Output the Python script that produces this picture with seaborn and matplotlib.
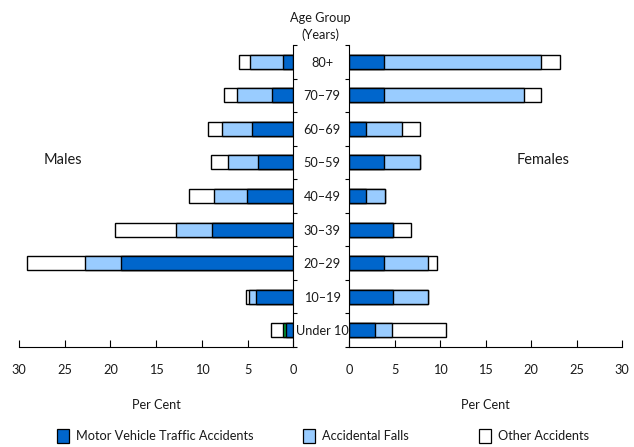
import matplotlib
matplotlib.use("Agg")
import matplotlib.pyplot as plt
import seaborn as sns
import pandas as pd
import numpy as np
from matplotlib.patches import Patch

sns.set_theme(style="white")
plt.rcParams['font.family'] = ['Lato', 'DejaVu Sans']

# ---------------- data ----------------
age_groups = ["80+", "70–79", "60–69", "50–59", "40–49", "30–39", "20–29", "10–19", "Under 10"]

male_motor = [1.1, 2.4, 4.55, 3.85, 5.1, 8.95, 18.85, 4.1, 0.8]
male_falls = [3.7, 3.8, 3.3, 3.3, 3.55, 3.85, 3.9, 0.8, 0.35]
male_other = [1.2, 1.4, 1.45, 1.9, 2.75, 6.7, 6.35, 0.3, 1.3]

female_motor = [3.85, 3.85, 1.85, 3.85, 1.85, 4.75, 3.85, 4.75, 2.85]
female_falls = [17.2, 15.35, 3.9, 3.9, 2.1, 0.0, 4.75, 3.9, 1.85]
female_other = [2.1, 1.85, 2.0, 0.0, 0.0, 2.05, 1.05, 0.0, 5.95]

series_names = ["Motor Vehicle Traffic Accidents", "Accidental Falls", "Other Accidents"]
x_ticks = [0, 5, 10, 15, 20, 25, 30]

MOTOR = "#0066CC"
FALLS = "#99CCFF"
OTHER = "#FFFFFF"
GREEN = "#009933"
# colour of the falls segment per age group (one odd green segment in the source)
male_falls_colors = [FALLS] * 8 + [GREEN]
female_falls_colors = [FALLS] * 9


def frame(motor, falls, other):
    df = pd.DataFrame({"age": age_groups,
                       "motor": motor, "falls": falls, "other": other})
    df["c1"] = df["motor"]
    df["c2"] = df["motor"] + df["falls"]
    df["c3"] = df["c2"] + df["other"]
    return df


males = frame(male_motor, male_falls, male_other)
females = frame(female_motor, female_falls, female_other)

W, H = 634, 447
fig = plt.figure(figsize=(W / 100, H / 100), dpi=100)
axL = fig.add_axes([19 / W, 1 - 347 / H, 274.5 / W, 302 / H])
axR = fig.add_axes([349.3 / W, 1 - 347 / H, 273 / W, 302 / H])

bar_kw = dict(orient="h", edgecolor="black", linewidth=1.0, width=0.42,
              errorbar=None, order=age_groups, saturation=1)


def draw(ax, df, falls_colors):
    # overdraw cumulative totals: total (other), motor+falls, motor
    sns.barplot(data=df, x="c3", y="age", color=OTHER, ax=ax, **bar_kw)
    sns.barplot(data=df, x="c2", y="age", hue="age", palette=dict(zip(age_groups, falls_colors)),
                legend=False, ax=ax, **bar_kw)
    sns.barplot(data=df, x="c1", y="age", color=MOTOR, ax=ax, **bar_kw)
    for p in ax.patches:
        if p.get_width() == 0:
            p.set_visible(False)


draw(axL, males, male_falls_colors)
draw(axR, females, female_falls_colors)

fs = 9.2
TXT = "#1a1a1a"
for ax in (axL, axR):
    ax.set_ylim(len(age_groups) - 0.5, -0.5)
    ax.set_xticks(x_ticks)
    ax.set_xticklabels([str(t) for t in x_ticks], fontsize=fs, color=TXT)
    ax.tick_params(axis="x", direction="in", length=5, width=0.8, color="black", pad=12, bottom=True)
    ax.set_xlabel("Per Cent", fontsize=fs, color=TXT, labelpad=17)
    ax.set_ylabel("")
    for s in ax.spines.values():
        s.set_color("black")
        s.set_linewidth(0.8)
    ax.spines["top"].set_visible(False)

axL.set_xlim(30, 0)
axR.set_xlim(0, 30)

axL.spines["left"].set_visible(False)
axL.yaxis.tick_right()
axL.set_yticks([])
axL.set_yticks(np.arange(len(age_groups) + 1) - 0.5, minor=True)
axL.tick_params(axis="y", which="minor", direction="out", length=3, width=0.8,
                color="black", right=True, left=False)

axR.spines["right"].set_visible(False)
axR.set_yticks(np.arange(len(age_groups)))
axR.set_yticklabels(age_groups, fontsize=fs, color=TXT, ha="center")
axR.set_yticks(np.arange(len(age_groups) + 1) - 0.5, minor=True)
axR.tick_params(axis="y", which="major", length=0, pad=19.5, left=False)
axR.tick_params(axis="y", which="minor", direction="out", length=3, width=0.8,
                color="black", left=True, right=False)

fig.text(320 / W, 1 - 18 / H, "Age Group", ha="center", va="center", fontsize=fs, color=TXT)
fig.text(320 / W, 1 - 35 / H, "(Years)", ha="center", va="center", fontsize=fs, color=TXT)
fig.text(63 / W, 1 - 160 / H, "Males", ha="center", va="center", fontsize=10.5, color=TXT)
fig.text(543 / W, 1 - 160 / H, "Females", ha="center", va="center", fontsize=10.5, color=TXT)

colors = (MOTOR, FALLS, OTHER)
lefts = (57, 303, 479)
for name, c, xl in zip(series_names, colors, lefts):
    fig.legend([Patch(facecolor=c, edgecolor="black", linewidth=0.9)], [name],
               loc="center left", bbox_to_anchor=(xl / W, 1 - 436 / H),
               frameon=False, fontsize=fs, handlelength=0.95, handleheight=1.3,
               handletextpad=0.5, borderpad=0, borderaxespad=0, labelcolor=TXT)

fig.savefig("out.png", dpi=100)
